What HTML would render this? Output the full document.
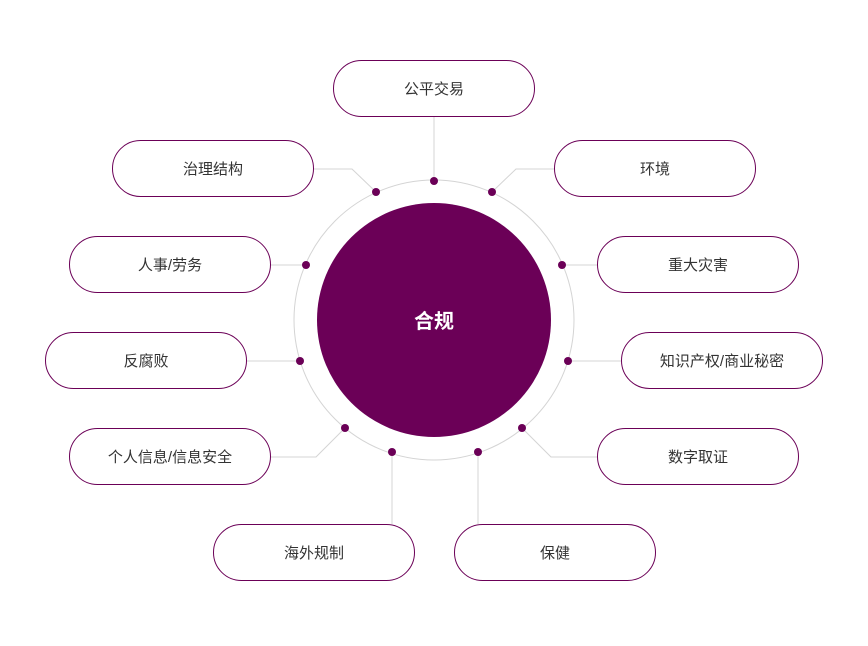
<!DOCTYPE html>
<html><head><meta charset="utf-8"><style>
html,body{margin:0;padding:0;background:#fff;}
svg text{font-family:"Liberation Sans","Noto Sans CJK SC",sans-serif;}
</style></head><body>
<svg width="868" height="641" viewBox="0 0 868 641" xmlns="http://www.w3.org/2000/svg">
<rect width="868" height="641" fill="#fff"/>
<g stroke="#d4d4d4" stroke-width="1" fill="none">
<circle cx="434" cy="320" r="140"/>
<polyline points="434,116 434,181"/>
<polyline points="314,169 352,169 376,192"/>
<polyline points="554,169 516,169 492,192"/>
<polyline points="271,265 306,265"/>
<polyline points="562,265 597,265"/>
<polyline points="247,361 300,361"/>
<polyline points="568,361 621,361"/>
<polyline points="271,457 316,457 345,428"/>
<polyline points="597,457 551,457 522,428"/>
<polyline points="392,452 392,524"/>
<polyline points="478,452 478,524"/>
</g>
<circle cx="434" cy="320" r="117" fill="#6b0057"/>
<text x="434" y="328" text-anchor="middle" font-size="20" font-weight="bold" fill="#fff">合规</text>
<g fill="#6b0057">
<circle cx="434" cy="181" r="4"/><circle cx="376" cy="192" r="4"/><circle cx="492" cy="192" r="4"/>
<circle cx="306" cy="265" r="4"/><circle cx="562" cy="265" r="4"/>
<circle cx="300" cy="361" r="4"/><circle cx="568" cy="361" r="4"/>
<circle cx="345" cy="428" r="4"/><circle cx="522" cy="428" r="4"/>
<circle cx="392" cy="452" r="4"/><circle cx="478" cy="452" r="4"/>
</g>
<g fill="#fff" stroke="#6b0057" stroke-width="1">
<rect x="333.5" y="60.5" width="201" height="56" rx="28"/>
<rect x="112.5" y="140.5" width="201" height="56" rx="28"/>
<rect x="554.5" y="140.5" width="201" height="56" rx="28"/>
<rect x="69.5" y="236.5" width="201" height="56" rx="28"/>
<rect x="597.5" y="236.5" width="201" height="56" rx="28"/>
<rect x="45.5" y="332.5" width="201" height="56" rx="28"/>
<rect x="621.5" y="332.5" width="201" height="56" rx="28"/>
<rect x="69.5" y="428.5" width="201" height="56" rx="28"/>
<rect x="597.5" y="428.5" width="201" height="56" rx="28"/>
<rect x="213.5" y="524.5" width="201" height="56" rx="28"/>
<rect x="454.5" y="524.5" width="201" height="56" rx="28"/>
</g>
<g font-size="15" fill="#333" text-anchor="middle">
<text x="434" y="94">公平交易</text>
<text x="213" y="174">治理结构</text>
<text x="655" y="174">环境</text>
<text x="170" y="270">人事/劳务</text>
<text x="698" y="270">重大灾害</text>
<text x="146" y="366">反腐败</text>
<text x="722" y="366">知识产权/商业秘密</text>
<text x="170" y="462">个人信息/信息安全</text>
<text x="698" y="462">数字取证</text>
<text x="314" y="558">海外规制</text>
<text x="555" y="558">保健</text>
</g>
</svg>
</body></html>
